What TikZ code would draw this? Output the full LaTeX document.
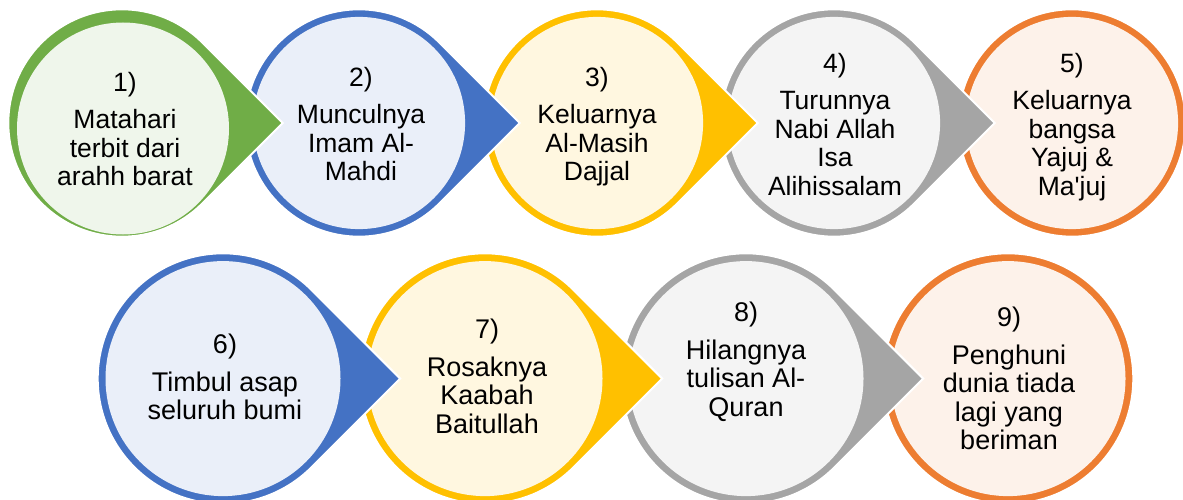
\documentclass[tikz,border=0pt]{standalone}
\usepackage{fontspec}
\newfontfamily\labfont{Liberation Sans}
\definecolor{cgreen}{HTML}{70AD47}
\definecolor{cblue}{HTML}{4472C4}
\definecolor{cyellow}{HTML}{FFC000}
\definecolor{cgray}{HTML}{A5A5A5}
\definecolor{corange}{HTML}{ED7D31}
\newcommand{\dropshape}[5]{%
  \ifnum#5=1
    \fill[#4, draw=white, line width=2pt] (#1+1.41421*#3,#2) -- ([shift={(45:#3)}]#1,#2) arc[start angle=45, end angle=315, radius=#3] -- cycle;
  \else
    \fill[#4, draw=white, line width=2pt] (#1,#2) circle[radius=#3];
  \fi
}
\begin{document}
\begin{tikzpicture}[x=1pt,y=-1pt,
  labtop/.style={font=\labfont\fontsize{26.5}{28.5}\selectfont, align=center, inner sep=0pt, anchor=north},
  labbot/.style={font=\labfont\fontsize{27}{28.5}\selectfont, align=center, inner sep=0pt, anchor=north}]
\useasboundingbox (0,0) rectangle (1183,500);
% top row, drawn right to left
\dropshape{1072}{123}{113.7}{corange}{0}
\fill[corange!10!white] (1072,123) circle[radius=106.1];
\dropshape{834}{123}{113.7}{cgray}{1}
\fill[cgray!12!white] (834,123) circle[radius=106.1];
\dropshape{597}{123}{113.7}{cyellow}{1}
\fill[cyellow!12!white] (597,123) circle[radius=106.1];
\dropshape{359}{123}{113.7}{cblue}{1}
\fill[cblue!11!white] (359,123) circle[radius=106.1];
\dropshape{122}{123}{113.7}{cgreen}{1}
\fill[cgreen!11!white] (123,128.5) circle[radius=106];
% bottom row
\dropshape{1008}{378.6}{125.3}{corange}{0}
\fill[corange!10!white] (1008,378.6) circle[radius=117.5];
\dropshape{746}{378.6}{125.3}{cgray}{1}
\fill[cgray!12!white] (746,378.6) circle[radius=117.5];
\dropshape{485}{378.6}{125.3}{cyellow}{1}
\fill[cyellow!12!white] (485,378.6) circle[radius=117.5];
\dropshape{223}{378.6}{125.3}{cblue}{1}
\fill[cblue!11!white] (223,378.6) circle[radius=117.5];
% texts
\node[labtop] (t1) at (125,72) {1)\\[9pt]Matahari\\terbit dari\\arahh barat};
\node[labtop] (t2) at (361,67) {2)\\[9pt]Munculnya\\Imam Al-\\Mahdi};
\node[labtop] (t3) at (597,67) {3)\\[9pt]Keluarnya\\Al-Masih\\Dajjal};
\node[labtop] (t4) at (835,53) {4)\\[9pt]Turunnya\\Nabi Allah\\Isa\\Alihissalam};
\node[labtop] (t5) at (1072,53) {5)\\[9pt]Keluarnya\\bangsa\\Yajuj \&\\Ma'juj};
\node[labbot] (t6) at (225,334) {6)\\[9pt]Timbul asap\\seluruh bumi};
\node[labbot] (t7) at (487,319) {7)\\[9pt]Rosaknya\\Kaabah\\Baitullah};
\node[labbot] (t8) at (746,302) {8)\\[9pt]Hilangnya\\tulisan Al-\\Quran};
\node[labbot] (t9) at (1009,307) {9)\\[9pt]Penghuni\\dunia tiada\\lagi yang\\beriman};
\end{tikzpicture}
\end{document}
